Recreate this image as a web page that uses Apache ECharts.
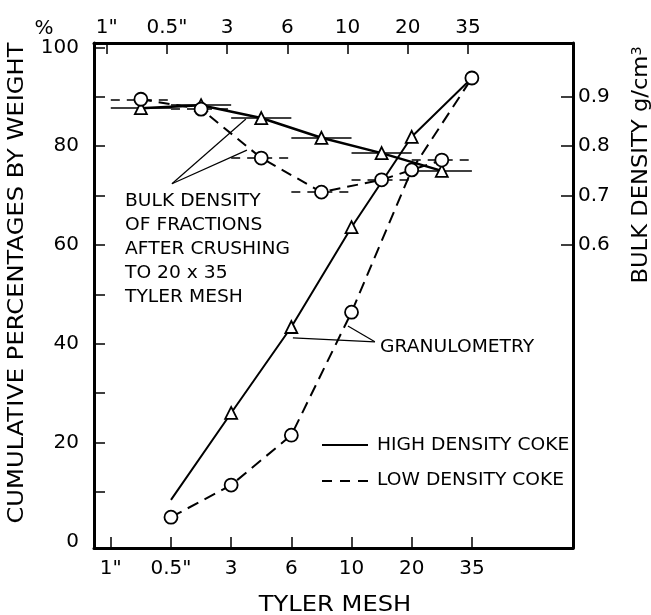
<!DOCTYPE html>
<html><head><meta charset="utf-8">
<script src="https://cdn.jsdelivr.net/npm/echarts@6/dist/echarts.min.js"></script>
<style>html,body{margin:0;padding:0;background:#fff}#c{width:651px;height:615px}</style>
</head><body><div id="c"></div>
<script>
// ---- data ----
const meshLabels = ['1"', '0.5"', '3', '6', '10', '20', '35'];
const meshIndex = [0, 1, 2, 3, 4, 5, 6];
const pctTicks = [10, 20, 30, 40, 50, 60, 70, 80, 90, 100];
const pctLabels = [0, 20, 40, 60, 80, 100];
const densTicks = [0.6, 0.7, 0.8, 0.9];
// granulometry: cumulative % by weight at sieve index
const granX = [1, 2, 3, 4, 5, 6];
const granHigh = [8.4, 26.0, 43.4, 63.6, 81.9, 93.8];
const granLow = [4.9, 11.4, 21.5, 46.4, 75.2, 93.8];
// bulk density (g/cm3) of each fraction between sieve i and i+1
const fractionFrom = [0, 1, 2, 3, 4, 5];
const densHigh = [0.877, 0.883, 0.857, 0.817, 0.786, 0.750];
const densLow = [0.895, 0.875, 0.776, 0.707, 0.732, 0.772];
// annotation leader lines (sieve index, %)
const bulkLeaders = [[[1.016, 72.4], [2.245, 85.5]], [[1.016, 72.4], [2.262, 79.2]]];
const granLeaders = [[[4.388, 40.4], [3.94, 43.6]], [[4.388, 40.4], [3.026, 41.2]]];

// ---- chart ----
const black = '#000';
const FF = '"DejaVu Sans", sans-serif';
const chart = echarts.init(document.getElementById('c'), null, {renderer: 'canvas'});

function xAxisCfg(pos, min, max, margin) {
  return {
    type: 'value', position: pos, min: min, max: max,
    axisLine: {show: true, onZero: false, lineStyle: {color: black, width: 3}},
    axisTick: {show: true, inside: true, length: 11, customValues: meshIndex, lineStyle: {color: black, width: 1.5}},
    axisLabel: {show: true, customValues: meshIndex, formatter: v => meshLabels[Math.round(v)] || '',
      color: black, fontSize: 20, fontFamily: FF, margin: margin},
    splitLine: {show: false}
  };
}

const symStyle = {color: '#fff', borderColor: black, borderWidth: 1.8};

const option = {
  animation: false,
  backgroundColor: '#fff',
  grid: {left: 94, right: 78, top: 43, bottom: 67, containLabel: false},
  xAxis: [
    xAxisCfg('bottom', -0.279, 7.68, 11),
    xAxisCfg('top', -0.211, 7.745, 5)
  ],
  yAxis: [
    {
      type: 'value', position: 'left', min: -1.336, max: 100.89,
      axisLine: {show: true, onZero: false, lineStyle: {color: black, width: 3}},
      axisTick: {show: true, inside: true, length: 11, customValues: pctTicks, lineStyle: {color: black, width: 1.5}},
      axisLabel: {show: true, customValues: pctLabels, color: black, fontSize: 20, fontFamily: FF, margin: 15},
      splitLine: {show: false}
    },
    {
      type: 'value', position: 'right', min: -0.01336, max: 1.0089,
      axisLine: {show: true, onZero: false, lineStyle: {color: black, width: 3}},
      axisTick: {show: true, inside: true, length: 12, customValues: densTicks, lineStyle: {color: black, width: 1.5}},
      axisLabel: {show: true, customValues: densTicks, formatter: v => v.toFixed(1), color: black, fontSize: 20, fontFamily: FF, margin: 5},
      splitLine: {show: false}
    }
  ],
  series: [
    {
      type: 'lines', coordinateSystem: 'cartesian2d', xAxisIndex: 0, yAxisIndex: 1, silent: true, z: 2,
      lineStyle: {color: black, width: 1.5, opacity: 1, curveness: 0},
      data: fractionFrom.map((f, i) => ({coords: [[f, densHigh[i]], [f + 1, densHigh[i]]]}))
    },
    {
      type: 'lines', coordinateSystem: 'cartesian2d', xAxisIndex: 0, yAxisIndex: 1, silent: true, z: 2,
      lineStyle: {color: black, width: 1.5, opacity: 1, curveness: 0, type: [9, 7]},
      data: fractionFrom.map((f, i) => ({coords: [[f, densLow[i]], [f + 1, densLow[i]]]}))
    },
    {
      type: 'line', xAxisIndex: 0, yAxisIndex: 1, silent: true, z: 3,
      data: fractionFrom.map((f, i) => [f + 0.5, densHigh[i]]),
      symbol: 'triangle', symbolSize: 12, showSymbol: true,
      lineStyle: {color: black, width: 2.5}, itemStyle: symStyle
    },
    {
      type: 'line', xAxisIndex: 0, yAxisIndex: 1, silent: true, z: 3,
      data: fractionFrom.map((f, i) => [f + 0.5, densLow[i]]),
      symbol: 'circle', symbolSize: 13, showSymbol: true,
      lineStyle: {color: black, width: 2, type: [11, 7]}, itemStyle: symStyle
    },
    {
      type: 'line', xAxisIndex: 0, yAxisIndex: 0, silent: true, z: 3,
      data: granX.map((x, i) => (i === 0 || i === granX.length - 1) ? {value: [x, granHigh[i]], symbol: 'none'} : [x, granHigh[i]]),
      symbol: 'triangle', symbolSize: 12, showSymbol: true,
      lineStyle: {color: black, width: 2}, itemStyle: symStyle
    },
    {
      type: 'line', xAxisIndex: 0, yAxisIndex: 0, silent: true, z: 4,
      data: granX.map((x, i) => [x, granLow[i]]),
      symbol: 'circle', symbolSize: 13, showSymbol: true,
      lineStyle: {color: black, width: 2, type: [12, 7]}, itemStyle: symStyle
    },
    {
      type: 'lines', coordinateSystem: 'cartesian2d', xAxisIndex: 0, yAxisIndex: 0, silent: true, z: 2,
      lineStyle: {color: black, width: 1.2, opacity: 1, curveness: 0},
      data: bulkLeaders.concat(granLeaders).map(c => ({coords: c}))
    }
  ],
  graphic: [
    {type: 'text', x: 17, y: 283, rotation: Math.PI / 2, scaleX: 1.1,
      style: {text: 'CUMULATIVE PERCENTAGES BY WEIGHT', font: '22px ' + FF, fill: black, textAlign: 'center', textVerticalAlign: 'middle'}},
    {type: 'text', x: 641, y: 165, rotation: Math.PI / 2, scaleX: 1.03,
      style: {text: 'BULK DENSITY g/cm{sup|3}', fontSize: 22, fontFamily: FF, fill: black, textAlign: 'center', textVerticalAlign: 'middle',
        rich: {sup: {fontSize: 14, fontFamily: FF, fill: black, verticalAlign: 'top'}}}},
    {type: 'text', x: 335, y: 605, scaleX: 1.1,
      style: {text: 'TYLER MESH', font: '22px ' + FF, fill: black, textAlign: 'center', textVerticalAlign: 'middle'}},
    {type: 'text', x: 44, y: 29,
      style: {text: '%', font: '20px ' + FF, fill: black, textAlign: 'center', textVerticalAlign: 'middle'}},
    {type: 'text', x: 125, y: 190, scaleX: 1.1,
      style: {text: 'BULK DENSITY\nOF FRACTIONS\nAFTER CRUSHING\nTO 20 x 35\nTYLER MESH', font: '17px ' + FF, lineHeight: 24, fill: black, textAlign: 'left', textVerticalAlign: 'top'}},
    {type: 'text', x: 380, y: 348, scaleX: 1.1,
      style: {text: 'GRANULOMETRY', font: '17px ' + FF, fill: black, textAlign: 'left', textVerticalAlign: 'middle'}},
    {type: 'line', shape: {x1: 322, y1: 445, x2: 368, y2: 445}, style: {stroke: black, lineWidth: 2}},
    {type: 'line', shape: {x1: 322, y1: 481, x2: 369, y2: 481}, style: {stroke: black, lineWidth: 2, lineDash: [10, 8]}},
    {type: 'text', x: 377, y: 446, scaleX: 1.1,
      style: {text: 'HIGH DENSITY COKE', font: '17px ' + FF, fill: black, textAlign: 'left', textVerticalAlign: 'middle'}},
    {type: 'text', x: 377, y: 481, scaleX: 1.1,
      style: {text: 'LOW DENSITY COKE', font: '17px ' + FF, fill: black, textAlign: 'left', textVerticalAlign: 'middle'}}
  ]
};
chart.setOption(option);
</script>
</body></html>
